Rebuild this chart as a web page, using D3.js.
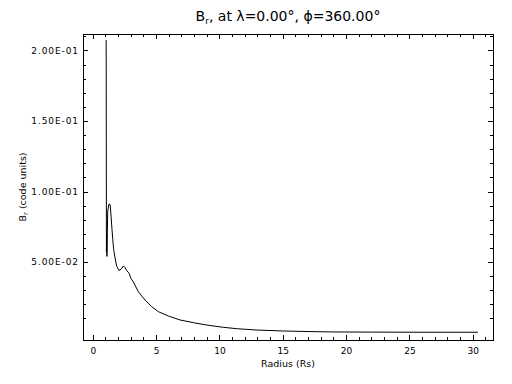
<!DOCTYPE html>
<html>
<head>
<meta charset="utf-8">
<script src="https://cdn.jsdelivr.net/npm/d3@7"></script>
<style>
  body { margin: 0; background: #fff; }
  text { font-family: "DejaVu Sans", sans-serif; fill: #000; }
</style>
</head>
<body>
<div id="chart"></div>
<script>
var width = 512;
var height = 384;

// radius (Rs) and B_r (code units)
var radius = [1.06, 1.08, 1.10, 1.12, 1.18, 1.28, 1.38, 1.45, 1.52, 1.58, 1.65, 1.76, 1.89,
              2.07, 2.25, 2.42, 2.55, 2.68, 2.87, 3.02, 3.2, 3.6, 4.13, 4.66, 5.18, 5.97,
              6.89, 7.94, 9.0, 10.3, 11.4, 12.9, 15.0, 17.0, 19.0, 22.0, 26.0, 30.4];
var br = [0.2074, 0.057, 0.070, 0.054, 0.086, 0.0912, 0.0905, 0.082, 0.073, 0.066, 0.059, 0.053, 0.047,
          0.0440, 0.0450, 0.0472, 0.0460, 0.0440, 0.0420, 0.0384, 0.036, 0.0289, 0.023, 0.0183, 0.0148, 0.0117,
          0.0089, 0.0070, 0.0053, 0.0037, 0.0027, 0.0018, 0.0011, 0.0007, 0.0004, 0.0003, 0.0002, 0.0002];

var xTicks = [0, 5, 10, 15, 20, 25, 30];
var yTicks = [0.05, 0.10, 0.15, 0.20];
var yTickLabels = ["5.00E-02", "1.00E-01", "1.50E-01", "2.00E-01"];

var margin = ({top: 34, right: 19, bottom: 44, left: 83}),
    iwidth = width - margin.left - margin.right,
    iheight = height - margin.top - margin.bottom;

var svg = d3.select("#chart")
    .append("svg")
    .attr("width", width)
    .attr("height", height);

var g = svg.append("g")
    .attr("transform", "translate(" + margin.left + "," + margin.top + ")");

// set the ranges
var x = d3.scaleLinear().domain([-0.77, 31.6]).range([0, iwidth]);
var y = d3.scaleLinear().domain([-0.0053, 0.2117]).range([iheight, 0]);

var xMinor = d3.range(-0, 32).filter(function(d) { return d % 5 != 0; });
var yMinor = d3.range(1, 22).map(function(d) { return d / 100; })
    .filter(function(d) { return Math.round(d * 100) % 5 != 0; });

function clean(sel) {
  sel.select(".domain").remove();
  sel.attr("shape-rendering", "crispEdges");
}

// bottom axis, ticks point inward
g.append("g")
    .attr("transform", "translate(0," + iheight + ")")
    .call(d3.axisBottom(x).tickValues(xTicks).tickSizeInner(-5).tickSizeOuter(0).tickPadding(8))
    .call(clean)
    .selectAll("text").style("font-size", "9px").attr("font-family", null);
g.append("g")
    .attr("transform", "translate(0," + iheight + ")")
    .call(d3.axisBottom(x).tickValues(xMinor).tickSizeInner(-3).tickSizeOuter(0).tickFormat(""))
    .call(clean);

// top axis
g.append("g")
    .call(d3.axisTop(x).tickValues(xTicks).tickSizeInner(-5).tickSizeOuter(0).tickFormat(""))
    .call(clean);
g.append("g")
    .call(d3.axisTop(x).tickValues(xMinor).tickSizeInner(-3).tickSizeOuter(0).tickFormat(""))
    .call(clean);

// left axis
g.append("g")
    .call(d3.axisLeft(y).tickValues(yTicks).tickSizeInner(-5).tickSizeOuter(0).tickPadding(4)
        .tickFormat(function(d, i) { return yTickLabels[i]; }))
    .call(clean)
    .selectAll("text").style("font-size", "9px").style("letter-spacing", "0.9px").attr("font-family", null);
g.append("g")
    .call(d3.axisLeft(y).tickValues(yMinor).tickSizeInner(-3).tickSizeOuter(0).tickFormat(""))
    .call(clean);

// right axis
g.append("g")
    .attr("transform", "translate(" + iwidth + ",0)")
    .call(d3.axisRight(y).tickValues(yTicks).tickSizeInner(-5).tickSizeOuter(0).tickFormat(""))
    .call(clean);
g.append("g")
    .attr("transform", "translate(" + iwidth + ",0)")
    .call(d3.axisRight(y).tickValues(yMinor).tickSizeInner(-3).tickSizeOuter(0).tickFormat(""))
    .call(clean);

// plot box
g.append("rect")
    .attr("x", 0.5)
    .attr("y", 0.5)
    .attr("width", iwidth)
    .attr("height", iheight)
    .attr("fill", "none")
    .attr("stroke", "#000")
    .attr("stroke-width", 1)
    .attr("shape-rendering", "crispEdges");

// the curve
var data = radius.map(function(r, i) { return {r: r, b: br[i]}; });
var valueline = d3.line()
    .x(function(d) { return x(d.r); })
    .y(function(d) { return y(d.b); });

g.append("path")
    .datum(data)
    .attr("fill", "none")
    .attr("stroke", "#000")
    .attr("stroke-width", 1)
    .attr("d", valueline);

// title
var title = svg.append("text")
    .attr("x", margin.left + iwidth / 2)
    .attr("y", 21)
    .attr("text-anchor", "middle")
    .style("font-size", "14px");
title.append("tspan").text("B");
title.append("tspan").attr("dy", 3).style("font-size", "9px").text("r");
title.append("tspan").attr("dy", -3).text(", at λ=0.00°, ϕ=360.00°");

// x label
svg.append("text")
    .attr("x", margin.left + iwidth / 2)
    .attr("y", 367)
    .attr("text-anchor", "middle")
    .style("font-size", "9.5px")
    .text("Radius (Rs)");

// y label
var ylab = svg.append("text")
    .attr("transform", "translate(26," + (margin.top + iheight / 2) + ") rotate(-90)")
    .attr("text-anchor", "middle")
    .style("font-size", "9.5px");
ylab.append("tspan").text("B");
ylab.append("tspan").attr("dy", 2).style("font-size", "7px").text("r");
ylab.append("tspan").attr("dy", -2).text(" (code units)");
</script>
</body>
</html>
